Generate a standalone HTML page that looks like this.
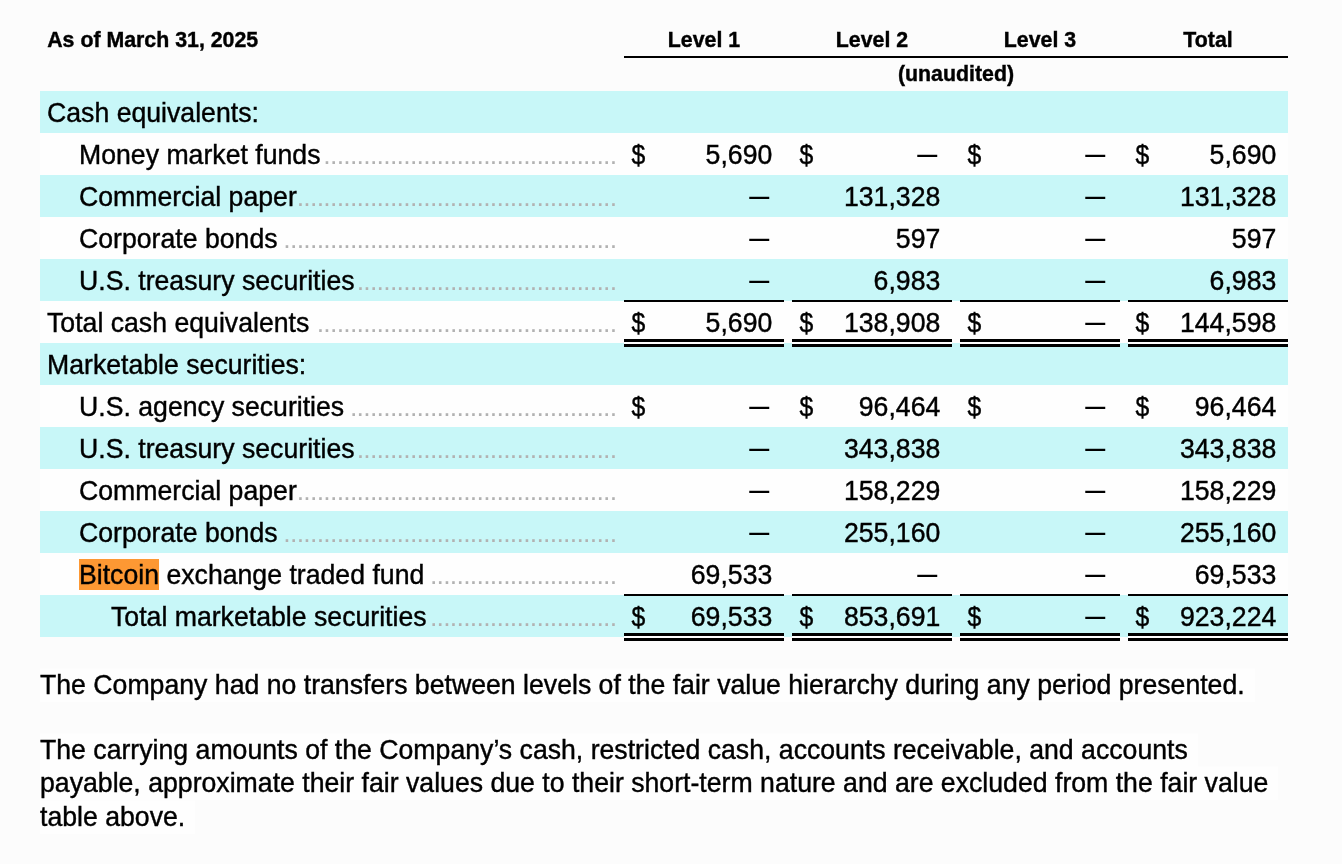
<!DOCTYPE html>
<html lang="en"><head><meta charset="utf-8"><title>Fair value hierarchy</title>
<style>
html,body{margin:0;padding:0}
body{width:1342px;height:864px;overflow:hidden;background:#fcfcfc;color:#000;font-family:"Liberation Sans",sans-serif;font-size:26.667px;position:relative}
.abs,.bg,.t,.h,.n,.d,.dots,.ln,.p{position:absolute;white-space:nowrap}
.bg{left:40px;width:1248px;height:42px;background:#c8f7f8}
.t,.n,.d{height:42px;line-height:42px}
.t,.n,.d,.p{-webkit-text-stroke:0.4px #000}
.t,.n{transform:scaleY(1.025);transform-origin:0 30.24px}
.p{transform:scaleY(1.025);transform-origin:0 25.74px}
.d{transform:translateY(-0.1px) scale(.93,1.06);transform-origin:7.4px 22.5px}
.h{transform:scaleY(1.04);transform-origin:0 20.39px;-webkit-text-stroke:0.4px #000;font-weight:bold;font-size:21.333px;line-height:26px;height:26px}
.hc{text-align:center;width:160px}
.n{text-align:right;width:148.33px}
.dash{-webkit-text-stroke:0;display:inline-block;transform:translateY(-0.85px) scale(.75,1.2);transform-origin:50% 23.47px}
.dots{color:#b2b2b2;height:42px;line-height:42px;text-align:right;overflow:hidden;letter-spacing:-0.745px;right:725.60px}
.ln{background:#000}
.dbl{position:absolute;width:160px;height:2px;border-top:3px solid #000;border-bottom:3px solid #000;background:#fefefe}
.hl{background:#fd9833}
.p{left:40px;padding-right:10px;height:33px;line-height:33px;white-space:nowrap;background:#fefefe}
.tbg{position:absolute;left:40px;top:91px;width:1248px;height:546px;background:#fefefe}

</style></head><body>
<div class="tbg"></div>
<div class="bg" style="top:91.25px"></div>
<div class="bg" style="top:175.25px"></div>
<div class="bg" style="top:259.25px"></div>
<div class="bg" style="top:343.25px"></div>
<div class="bg" style="top:427.25px"></div>
<div class="bg" style="top:511.25px"></div>
<div class="bg" style="top:595.25px"></div>
<div class="h" style="left:47.2px;top:26.61px">As of March 31, 2025</div>
<div class="h hc" style="left:624px;top:26.61px">Level 1</div>
<div class="h hc" style="left:792px;top:26.61px">Level 2</div>
<div class="h hc" style="left:960px;top:26.61px">Level 3</div>
<div class="h hc" style="left:1128px;top:26.61px">Total</div>
<div class="ln" style="left:624px;top:56px;width:664px;height:2px"></div>
<div class="h" style="left:624px;width:664px;text-align:center;top:60.61px">(unaudited)</div>
<div class="t" style="left:47.0px;top:91.76px">Cash equivalents:</div>
<div class="t" style="left:79.0px;top:133.76px">Money market funds</div>
<div class="dots" style="top:133.76px">............................................</div>
<div class="d" style="left:630.67px;top:133.76px">$</div>
<div class="n" style="left:624px;top:133.76px">5,690</div>
<div class="d" style="left:798.67px;top:133.76px">$</div>
<div class="n" style="left:792px;top:133.76px"><span class="dash">—</span></div>
<div class="d" style="left:966.67px;top:133.76px">$</div>
<div class="n" style="left:960px;top:133.76px"><span class="dash">—</span></div>
<div class="d" style="left:1134.67px;top:133.76px">$</div>
<div class="n" style="left:1128px;top:133.76px">5,690</div>
<div class="t" style="left:79.0px;top:175.76px">Commercial paper</div>
<div class="dots" style="top:175.76px">................................................</div>
<div class="n" style="left:624px;top:175.76px"><span class="dash">—</span></div>
<div class="n" style="left:792px;top:175.76px">131,328</div>
<div class="n" style="left:960px;top:175.76px"><span class="dash">—</span></div>
<div class="n" style="left:1128px;top:175.76px">131,328</div>
<div class="t" style="left:79.0px;top:217.76px">Corporate bonds</div>
<div class="dots" style="top:217.76px">..................................................</div>
<div class="n" style="left:624px;top:217.76px"><span class="dash">—</span></div>
<div class="n" style="left:792px;top:217.76px">597</div>
<div class="n" style="left:960px;top:217.76px"><span class="dash">—</span></div>
<div class="n" style="left:1128px;top:217.76px">597</div>
<div class="t" style="left:79.0px;top:259.76px">U.S. treasury securities</div>
<div class="dots" style="top:259.76px">.......................................</div>
<div class="n" style="left:624px;top:259.76px"><span class="dash">—</span></div>
<div class="n" style="left:792px;top:259.76px">6,983</div>
<div class="n" style="left:960px;top:259.76px"><span class="dash">—</span></div>
<div class="n" style="left:1128px;top:259.76px">6,983</div>
<div class="t" style="left:47.0px;top:301.76px">Total cash equivalents</div>
<div class="dots" style="top:301.76px">.............................................</div>
<div class="d" style="left:630.67px;top:301.76px">$</div>
<div class="n" style="left:624px;top:301.76px">5,690</div>
<div class="d" style="left:798.67px;top:301.76px">$</div>
<div class="n" style="left:792px;top:301.76px">138,908</div>
<div class="d" style="left:966.67px;top:301.76px">$</div>
<div class="n" style="left:960px;top:301.76px"><span class="dash">—</span></div>
<div class="d" style="left:1134.67px;top:301.76px">$</div>
<div class="n" style="left:1128px;top:301.76px">144,598</div>
<div class="t" style="left:47.0px;top:343.76px">Marketable securities:</div>
<div class="t" style="left:79.0px;top:385.76px">U.S. agency securities</div>
<div class="dots" style="top:385.76px">........................................</div>
<div class="d" style="left:630.67px;top:385.76px">$</div>
<div class="n" style="left:624px;top:385.76px"><span class="dash">—</span></div>
<div class="d" style="left:798.67px;top:385.76px">$</div>
<div class="n" style="left:792px;top:385.76px">96,464</div>
<div class="d" style="left:966.67px;top:385.76px">$</div>
<div class="n" style="left:960px;top:385.76px"><span class="dash">—</span></div>
<div class="d" style="left:1134.67px;top:385.76px">$</div>
<div class="n" style="left:1128px;top:385.76px">96,464</div>
<div class="t" style="left:79.0px;top:427.76px">U.S. treasury securities</div>
<div class="dots" style="top:427.76px">.......................................</div>
<div class="n" style="left:624px;top:427.76px"><span class="dash">—</span></div>
<div class="n" style="left:792px;top:427.76px">343,838</div>
<div class="n" style="left:960px;top:427.76px"><span class="dash">—</span></div>
<div class="n" style="left:1128px;top:427.76px">343,838</div>
<div class="t" style="left:79.0px;top:469.76px">Commercial paper</div>
<div class="dots" style="top:469.76px">................................................</div>
<div class="n" style="left:624px;top:469.76px"><span class="dash">—</span></div>
<div class="n" style="left:792px;top:469.76px">158,229</div>
<div class="n" style="left:960px;top:469.76px"><span class="dash">—</span></div>
<div class="n" style="left:1128px;top:469.76px">158,229</div>
<div class="t" style="left:79.0px;top:511.76px">Corporate bonds</div>
<div class="dots" style="top:511.76px">..................................................</div>
<div class="n" style="left:624px;top:511.76px"><span class="dash">—</span></div>
<div class="n" style="left:792px;top:511.76px">255,160</div>
<div class="n" style="left:960px;top:511.76px"><span class="dash">—</span></div>
<div class="n" style="left:1128px;top:511.76px">255,160</div>
<div class="abs hl" style="left:79px;top:559px;width:80px;height:31px"></div>
<div class="t" style="left:79.0px;top:553.76px">Bitcoin exchange traded fund</div>
<div class="dots" style="top:553.76px">............................</div>
<div class="n" style="left:624px;top:553.76px">69,533</div>
<div class="n" style="left:792px;top:553.76px"><span class="dash">—</span></div>
<div class="n" style="left:960px;top:553.76px"><span class="dash">—</span></div>
<div class="n" style="left:1128px;top:553.76px">69,533</div>
<div class="t" style="left:111.0px;top:595.76px">Total marketable securities</div>
<div class="dots" style="top:595.76px">............................</div>
<div class="d" style="left:630.67px;top:595.76px">$</div>
<div class="n" style="left:624px;top:595.76px">69,533</div>
<div class="d" style="left:798.67px;top:595.76px">$</div>
<div class="n" style="left:792px;top:595.76px">853,691</div>
<div class="d" style="left:966.67px;top:595.76px">$</div>
<div class="n" style="left:960px;top:595.76px"><span class="dash">—</span></div>
<div class="d" style="left:1134.67px;top:595.76px">$</div>
<div class="n" style="left:1128px;top:595.76px">923,224</div>
<div class="ln" style="left:624px;width:160px;top:300px;height:2px"></div>
<div class="dbl" style="left:624px;top:339px"></div>
<div class="ln" style="left:792px;width:160px;top:300px;height:2px"></div>
<div class="dbl" style="left:792px;top:339px"></div>
<div class="ln" style="left:960px;width:160px;top:300px;height:2px"></div>
<div class="dbl" style="left:960px;top:339px"></div>
<div class="ln" style="left:1128px;width:160px;top:300px;height:2px"></div>
<div class="dbl" style="left:1128px;top:339px"></div>
<div class="ln" style="left:624px;width:160px;top:594px;height:2px"></div>
<div class="dbl" style="left:624px;top:633px"></div>
<div class="ln" style="left:792px;width:160px;top:594px;height:2px"></div>
<div class="dbl" style="left:792px;top:633px"></div>
<div class="ln" style="left:960px;width:160px;top:594px;height:2px"></div>
<div class="dbl" style="left:960px;top:633px"></div>
<div class="ln" style="left:1128px;width:160px;top:594px;height:2px"></div>
<div class="dbl" style="left:1128px;top:633px"></div>
<div class="p" style="top:668.86px">The Company had no transfers between levels of the fair value hierarchy during any period presented.</div>
<div class="p" style="top:733.86px">The carrying amounts of the Company’s cash, restricted cash, accounts receivable, and accounts</div>
<div class="p" style="top:766.86px">payable, approximate their fair values due to their short-term nature and are excluded from the fair value</div>
<div class="p" style="top:800.86px">table above.</div>
</body></html>
